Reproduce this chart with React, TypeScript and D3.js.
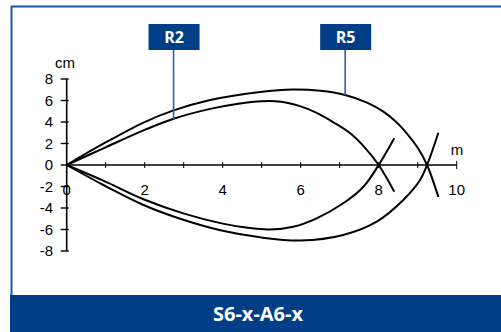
import React from "react";
import * as d3 from "d3";

// curve points: [distance m, deflection cm]
const r2Upper: [number, number][] = [
  [0, 0], [0.94, 1.55], [1.97, 3.22], [2.74, 4.3], [3.68, 5.22], [4.4, 5.7],
  [5.0, 5.93], [5.5, 5.88], [6.0, 5.45], [6.41, 4.85], [6.85, 3.95], [7.27, 2.95],
  [7.65, 1.6], [8.0, 0], [8.4, -2.48],
];
const r2Lower: [number, number][] = [
  [0, 0], [0.94, -1.46], [1.97, -3.19], [2.99, -4.5], [3.97, -5.43], [4.6, -5.82],
  [5.2, -6.0], [5.81, -5.74], [6.41, -4.96], [7.09, -3.56], [7.61, -2.02], [8.0, 0],
  [8.4, 2.48],
];
const r5Upper: [number, number][] = [
  [0, 0], [0.94, 1.98], [1.97, 3.95], [2.74, 5.08], [3.68, 6.05], [4.96, 6.8],
  [5.81, 7.02], [6.5, 6.9], [7.14, 6.51], [7.7, 5.8], [8.12, 4.96], [8.45, 4.0],
  [8.72, 2.95], [9.0, 1.6], [9.24, 0], [9.53, -2.98],
];
const r5Lower: [number, number][] = [
  [0, 0], [0.94, -1.86], [1.97, -3.72], [2.99, -5.1], [3.97, -6.1], [4.96, -6.73],
  [6.0, -7.03], [7.09, -6.51], [7.95, -5.27], [8.63, -3.26], [9.06, -1.4],
  [9.24, 0], [9.53, 3.0],
];

const xTickLabels = [0, 2, 4, 6, 8, 10];
const xTicks = [1, 2, 3, 4, 5, 6, 7, 8, 9, 10];
const yTickLabels = [8, 6, 4, 2, 0, -2, -4, -6, -8];

// label name, anchor point on the curve
const labels: { name: string; at: [number, number] }[] = [
  { name: "R2", at: [2.74, 4.3] },
  { name: "R5", at: [7.14, 6.51] },
];

const title = "S6-x-A6-x";

const W = 501;
const H = 332;
const navy = "#003f88";
const font = "'Liberation Sans', Arial, sans-serif";

export default function App() {
  const x = d3.scaleLinear().domain([0, 10]).range([66.7, 456.7]);
  const y = d3.scaleLinear().domain([-8, 8]).range([251, 79]);

  const line = d3
    .line<[number, number]>()
    .x((d) => x(d[0]))
    .y((d) => y(d[1]))
    .curve(d3.curveCatmullRom.alpha(0.5));

  const curves = [r2Upper, r2Lower, r5Upper, r5Lower];

  return (
    <svg
      width={W}
      height={H}
      style={{ position: "absolute", left: 0, top: 0, display: "block" }}
    >
      <rect x={0} y={0} width={W} height={H} fill="#fff" />
      {/* frame */}
      <path d={`M11.5,${H} V6.5 H${W}`} fill="none" stroke="#1d56a3" strokeWidth={2} />

      {/* y axis */}
      <line x1={x(0)} x2={x(0)} y1={y(8)} y2={y(-8)} stroke="#000" strokeWidth={1.6} />
      {yTickLabels.map((v) => (
        <g key={v}>
          <line x1={x(0) - 6} x2={x(0) + 2} y1={y(v)} y2={y(v)} stroke="#000" strokeWidth={1.4} />
          <text
            x={53}
            y={y(v)}
            dy="0.36em"
            textAnchor="end"
            fontFamily={font}
            fontSize={15}
            fill="#000"
          >
            {v}
          </text>
        </g>
      ))}
      <text x={65} y={68} textAnchor="middle" fontFamily={font} fontSize={15}>
        cm
      </text>

      {/* x axis */}
      <line x1={x(0)} x2={x(10)} y1={y(0)} y2={y(0)} stroke="#000" strokeWidth={1.6} />
      {xTicks.map((v) => (
        <line
          key={v}
          x1={x(v)}
          x2={x(v)}
          y1={y(0) - (v === 10 ? 4 : 3)}
          y2={y(0) + (v === 10 ? 4 : 3)}
          stroke="#000"
          strokeWidth={1}
        />
      ))}
      {xTickLabels.map((v) => (
        <text
          key={v}
          x={x(v)}
          y={195}
          textAnchor="middle"
          fontFamily={font}
          fontSize={15}
        >
          {v}
        </text>
      ))}
      <text x={457} y={155} textAnchor="middle" fontFamily={font} fontSize={15}>
        m
      </text>

      {/* curves */}
      {curves.map((c, i) => (
        <path key={i} d={line(c) ?? ""} fill="none" stroke="#000" strokeWidth={2} />
      ))}

      {/* labels */}
      {labels.map((l) => {
        const cx = x(l.at[0]);
        return (
          <g key={l.name}>
            <line x1={cx} x2={cx} y1={50} y2={y(l.at[1])} stroke="#2a63ad" strokeWidth={1.6} />
            <rect x={cx - 25} y={24} width={51} height={26} fill={navy} />
            <text
              x={cx + 0.5}
              y={37}
              dy="0.36em"
              textAnchor="middle"
              fontFamily="'Open Sans', sans-serif"
              fontWeight={700}
              fontSize={16}
              fill="#fff"
            >
              {l.name}
            </text>
          </g>
        );
      })}

      {/* bottom banner */}
      <rect x={10} y={295} width={W - 10} height={H - 295} fill={navy} />
      <text
        x={258}
        y={321}
        textAnchor="middle"
        fontFamily="'Open Sans', sans-serif"
        fontWeight={700}
        fontSize={20}
        fill="#fff"
      >
        {title}
      </text>
    </svg>
  );
}
